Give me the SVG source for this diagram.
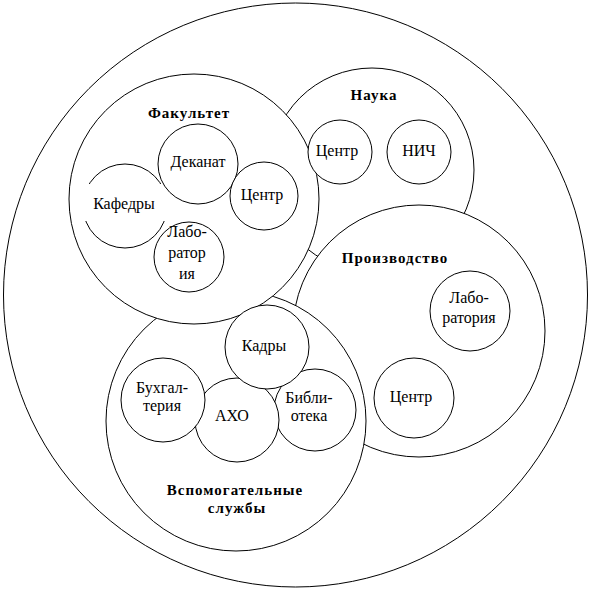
<svg xmlns="http://www.w3.org/2000/svg" width="591" height="591" viewBox="0 0 591 591">
<style>
circle{fill:#fff;stroke:#000;stroke-width:1}
text{font-family:"Liberation Serif","Times New Roman",serif;fill:#000;text-anchor:middle}
.h{font-size:15px;font-weight:bold;letter-spacing:1px}
.t{font-size:16px}
</style>
<rect width="591" height="591" fill="#fff"/>
<g id="outer"><circle cx="295.5" cy="295" r="292"/></g>
<g id="nauka">
<circle cx="372" cy="170" r="102"/>
<text class="h" x="374" y="100">Наука</text>
</g>
<g id="proizvodstvo">
<circle cx="419" cy="331" r="126"/>
<text class="h" x="395" y="263">Производство</text>
</g>
<g id="vspom">
<circle cx="236" cy="421" r="130"/>
<text class="h" x="235" y="495">Вспомогательные</text>
<text class="h" x="237" y="513">службы</text>
</g>
<g id="fakultet">
<circle cx="194" cy="199" r="125"/>
<text class="h" x="189" y="118">Факультет</text>
</g>
<g id="kafedry">
<circle cx="125" cy="206" r="42"/>
<rect x="80" y="184" width="90" height="37" fill="#fff"/>
<text class="t" x="124" y="209">Кафедры</text>
</g>
<g id="dekanat">
<circle cx="198" cy="164" r="40"/>
<text class="t" x="198" y="167">Деканат</text>
</g>
<g id="fak-centr">
<circle cx="264" cy="196" r="34"/>
<text class="t" x="262" y="200">Центр</text>
</g>
<g id="fak-lab">
<circle cx="189" cy="257" r="35"/>
<text class="t" x="187" y="237">Лабо-</text>
<text class="t" x="187" y="258">ратор</text>
<text class="t" x="187" y="279">ия</text>
</g>
<g id="nauka-centr">
<circle cx="340" cy="152" r="32"/>
<text class="t" x="337" y="156">Центр</text>
</g>
<g id="nich">
<circle cx="419" cy="152" r="32"/>
<text class="t" x="419" y="156">НИЧ</text>
</g>
<g id="pr-lab">
<circle cx="470" cy="311" r="40"/>
<text class="t" x="469" y="303">Лабо-</text>
<text class="t" x="469" y="323">ратория</text>
</g>
<g id="pr-centr">
<circle cx="414" cy="398" r="40"/>
<text class="t" x="411" y="402">Центр</text>
</g>
<g id="biblioteka">
<circle cx="315" cy="410" r="41"/>
<text class="t" x="309" y="403">Библи-</text>
<text class="t" x="309" y="421">отека</text>
</g>
<g id="aho">
<circle cx="237" cy="420" r="42"/>
<text class="t" x="232" y="421">АХО</text>
</g>
<g id="buhgalteriya">
<circle cx="163" cy="400" r="42"/>
<text class="t" x="162" y="393">Бухгал-</text>
<text class="t" x="162" y="411">терия</text>
</g>
<g id="kadry">
<circle cx="267" cy="347" r="42"/>
<text class="t" x="264" y="351">Кадры</text>
</g>
<g id="connectors"></g>
</svg>
